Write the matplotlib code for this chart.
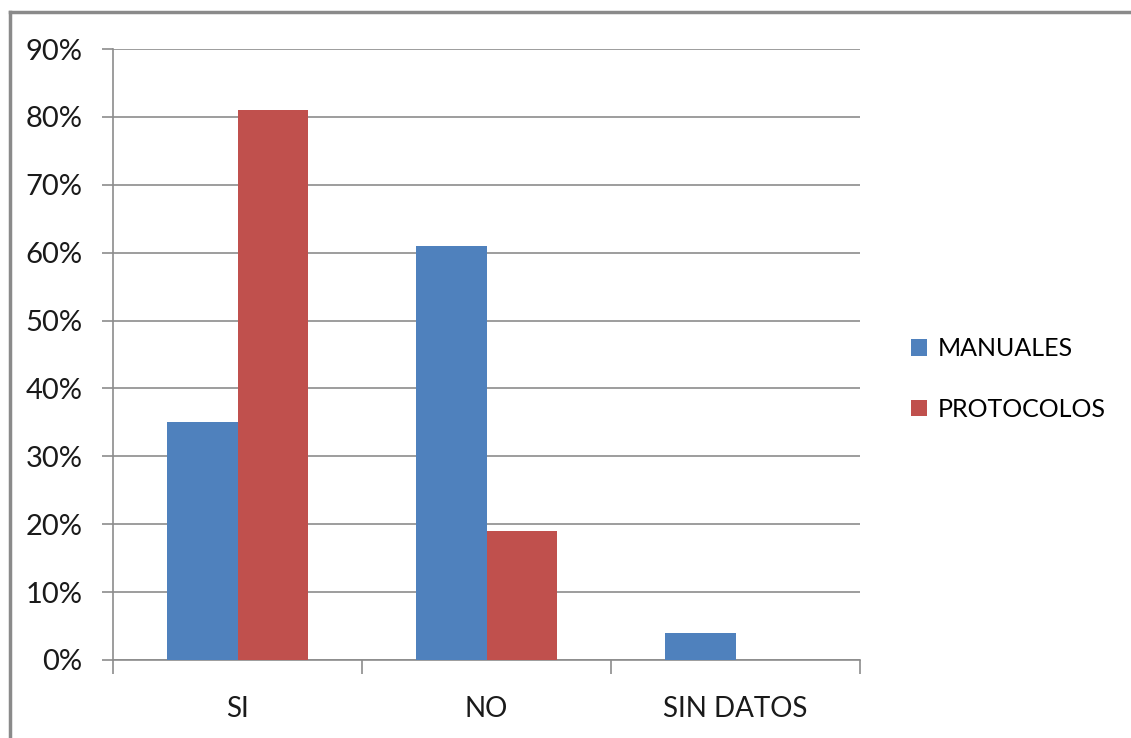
import matplotlib.pyplot as plt
import matplotlib.lines as mlines
import numpy as np
from matplotlib.ticker import FixedLocator

categorias = ["SI", "NO", "SIN DATOS"]
manuales = [35, 61, 4]
protocolos = [81, 19, 0]
series = ["MANUALES", "PROTOCOLOS"]
yticks = [0, 10, 20, 30, 40, 50, 60, 70, 80, 90]

AZUL = "#4F81BD"
ROJO = "#C0504D"
GRIS = "#8C8C8C"

plt.rcParams["font.family"] = ["Lato", "DejaVu Sans"]

fig = plt.figure(figsize=(11.31, 7.38), dpi=100)
ax = fig.add_axes([113 / 1131, 1 - 660 / 738, (860 - 113) / 1131, (660 - 49) / 738])

x = np.arange(len(categorias))
w = 0.285
ax.bar(x - w / 2, manuales, w, color=AZUL, label=series[0], zorder=3)
ax.bar(x + w / 2, protocolos, w, color=ROJO, label=series[1], zorder=3)

ax.set_xlim(-0.5, len(categorias) - 0.5)
ax.set_ylim(0, 90)
ax.set_yticks(yticks)
ax.set_yticklabels([f"{v}%" for v in yticks])
ax.yaxis.grid(True, color=GRIS, linewidth=1.2, zorder=0)
ax.set_axisbelow(True)

# category labels centred, tick marks on the boundaries
ax.set_xticks(x)
ax.set_xticklabels(categorias)
ax.xaxis.set_minor_locator(FixedLocator(np.arange(-0.5, len(categorias), 1.0)))
ax.tick_params(axis="x", which="major", length=0, pad=26, labelsize=20, labelcolor="#1a1a1a")
ax.tick_params(axis="x", which="minor", length=10, width=1.2, color=GRIS, direction="out")
ax.tick_params(axis="y", length=8, width=1.2, color=GRIS, pad=14, labelsize=21, labelcolor="#1a1a1a")

for s in ("top", "right"):
    ax.spines[s].set_visible(False)
for s in ("left", "bottom"):
    ax.spines[s].set_color(GRIS)
    ax.spines[s].set_linewidth(1.2)

ax.legend(loc="center left", bbox_to_anchor=(888 / 1131, 1 - 379 / 738),
          bbox_transform=fig.transFigure, frameon=False, fontsize=18,
          handlelength=0.65, handleheight=0.65, handletextpad=0.45, labelspacing=1.5)

# outer chart border
fig.add_artist(mlines.Line2D([10 / 1131, 1.0], [1 - 12 / 738] * 2, color="#8a8a8a", lw=2.5))
fig.add_artist(mlines.Line2D([10 / 1131] * 2, [0.0, 1 - 12 / 738], color="#8a8a8a", lw=2.5))

fig.savefig("out.png", dpi=100)
